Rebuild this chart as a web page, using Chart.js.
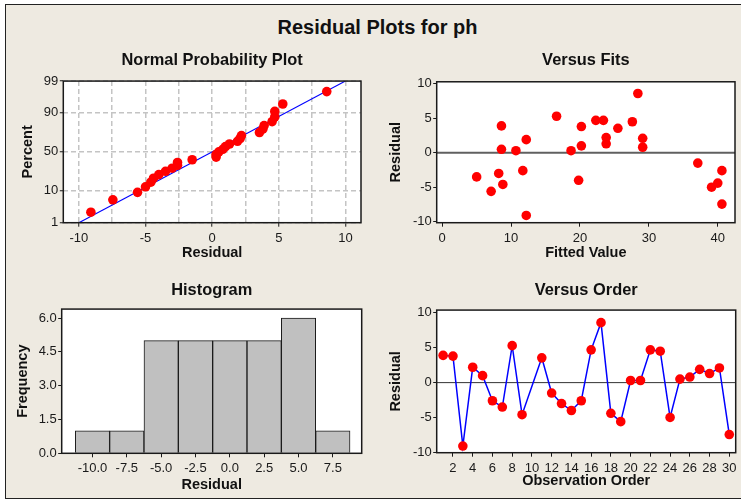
<!DOCTYPE html>
<html>
<head>
<meta charset="utf-8">
<title>Residual Plots for ph</title>
<script src="https://cdn.jsdelivr.net/npm/chart.js@4.4.1/dist/chart.umd.min.js"></script>
<style>
  html, body { margin: 0; padding: 0; background: #fff; }
  #page { position: relative; width: 741px; height: 500px; overflow: hidden; background: #fff; }
  #frame { position: absolute; left: 5px; top: 4px; width: 760px; height: 495px; box-sizing: border-box;
           background: #EEEAE1; border: 1.5px solid #222; }
  #mainTitle { position: absolute; left: 7px; top: 16px; width: 741px; line-height: 23px; text-align: center;
               font: bold 20px "Liberation Sans", Arial, sans-serif; color: #111; }
  canvas { position: absolute; }
</style>
</head>
<body>
<div id="page">
  <div id="frame"></div>
  <div id="mainTitle">Residual Plots for ph</div>
  <canvas id="normalChart" width="370" height="230" style="left:0;top:40px"></canvas>
  <canvas id="fitsChart" width="371" height="230" style="left:370px;top:40px"></canvas>
  <canvas id="histChart" width="370" height="228" style="left:0;top:270px"></canvas>
  <canvas id="orderChart" width="371" height="228" style="left:370px;top:270px"></canvas>
</div>
<script>
// residuals by observation order (observation 10 is missing)
const observation = [1, 2, 3, 4, 5, 6, 7, 8, 9, 10, 11, 12, 13, 14, 15,
                     16, 17, 18, 19, 20, 21, 22, 23, 24, 25, 26, 27, 28, 29, 30];
const residuals = [3.9, 3.8, -9.1, 2.2, 1.0, -2.6, -3.5, 5.3, -4.6, null, 3.55, -1.5, -3.0, -4.0, -2.6,
                   4.7, 8.6, -4.4, -5.6, 0.3, 0.3, 4.7, 4.5, -5.0, 0.5, 0.8, 1.9, 1.3, 2.1, -7.45];
const fittedValues = [8.6, 20.2, 12.2, 23.8, 20.2, 11.7, 5.0, 16.6, 8.8, null, 25.5, 37.1, 8.2, 19.8, 40.6,
                      22.3, 28.4, 40.0, 7.1, 10.7, 18.7, 23.4, 27.6, 39.1, 8.6, 29.1, 12.2, 23.8, 29.1, 40.6];

// histogram bins
const binMids = [-10, -7.5, -5, -2.5, 0, 2.5, 5, 7.5];
const binCounts = [1, 1, 5, 5, 5, 5, 6, 1];

// fitted normal line (residual at 1% and 99%)
const fitLineResidual = [-10, 10];
const fitLinePercent = [1, 99];

// tick labels
const percentTicks = [1, 10, 50, 90, 99];
const normalXTicks = [-10, -7.5, -5, -2.5, 0, 2.5, 5, 7.5, 10];
const residualTicks = [-10, -5, 0, 5, 10];
const fitsXTicks = [0, 10, 20, 30, 40];
const freqTicks = [0, 1.5, 3, 4.5, 6];
const orderTicks = [2, 4, 6, 8, 10, 12, 14, 16, 18, 20, 22, 24, 26, 28, 30];

Chart.defaults.font.family = "'Liberation Sans', Arial, sans-serif";
Chart.defaults.font.size = 13;
Chart.defaults.color = '#1a1a1a';
Chart.defaults.animation = false;
Chart.defaults.plugins.legend.display = false;
Chart.defaults.plugins.tooltip.enabled = false;

// inverse normal cdf (Acklam), used for the probability axis
function probit(p) {
    const a = [-3.969683028665376e+01, 2.209460984245205e+02, -2.759285104469687e+02,
               1.383577518672690e+02, -3.066479806614716e+01, 2.506628277459239e+00];
    const b = [-5.447609879822406e+01, 1.615858368580409e+02, -1.556989798598866e+02,
               6.680131188771972e+01, -1.328068155288572e+01];
    const c = [-7.784894002430293e-03, -3.223964580411365e-01, -2.400758277161838e+00,
               -2.549732539343734e+00, 4.374664141464968e+00, 2.938163982698783e+00];
    const d = [7.784695709041462e-03, 3.224671290700398e-01, 2.445134137142996e+00, 3.754408661907416e+00];
    const pl = 0.02425;
    if (p < pl) {
        const q = Math.sqrt(-2 * Math.log(p));
        return (((((c[0] * q + c[1]) * q + c[2]) * q + c[3]) * q + c[4]) * q + c[5]) /
               ((((d[0] * q + d[1]) * q + d[2]) * q + d[3]) * q + 1);
    }
    if (p > 1 - pl) {
        return -probit(1 - p);
    }
    const q = p - 0.5, r = q * q;
    return (((((a[0] * r + a[1]) * r + a[2]) * r + a[3]) * r + a[4]) * r + a[5]) * q /
           (((((b[0] * r + b[1]) * r + b[2]) * r + b[3]) * r + b[4]) * r + 1);
}

// white plot area, optional zero line, dark frame
const plotFrame = {
    id: 'plotFrame',
    beforeDraw(chart) {
        const a = chart.chartArea, ctx = chart.ctx;
        ctx.save();
        ctx.fillStyle = '#ffffff';
        ctx.fillRect(a.left, a.top, a.right - a.left, a.bottom - a.top);
        ctx.restore();
    },
    beforeDatasetsDraw(chart, args, opts) {
        if (!opts.zeroLine) return;
        const a = chart.chartArea, ctx = chart.ctx;
        const y = chart.scales.y.getPixelForValue(0);
        ctx.save();
        ctx.strokeStyle = opts.zeroColor;
        ctx.lineWidth = opts.zeroWidth;
        ctx.beginPath();
        ctx.moveTo(a.left, y);
        ctx.lineTo(a.right, y);
        ctx.stroke();
        ctx.restore();
    },
    afterDatasetsDraw(chart) {
        const a = chart.chartArea, ctx = chart.ctx;
        ctx.save();
        ctx.strokeStyle = '#1a1a1a';
        ctx.lineWidth = 1.5;
        ctx.strokeRect(a.left, a.top, a.right - a.left, a.bottom - a.top);
        ctx.restore();
    }
};

const titleFont = { size: 16.4, weight: 'bold' };
const axisFont = { size: 14.5, weight: 'bold' };
const dotRadius = 4.8;

function tickGrid(len) {
    return { display: true, drawOnChartArea: false, drawTicks: true, offset: false,
             tickLength: len, tickColor: '#1a1a1a', tickWidth: 1 };
}
function setTicks(values) {
    return function (axis) { axis.ticks = values.map(v => ({ value: v })); };
}

// Normal Probability Plot
const sortedRes = residuals.filter(v => v !== null).sort((p, q) => p - q);
const normalPoints = sortedRes.map((r, i) => ({ x: r, y: probit((i + 0.7) / (sortedRes.length + 0.4)) }));

new Chart(document.getElementById('normalChart'), {
    type: 'scatter',
    data: {
        datasets: [{
            data: normalPoints,
            pointRadius: dotRadius,
            pointBackgroundColor: '#ff0000',
            pointBorderWidth: 0
        }, {
            type: 'line',
            data: fitLineResidual.map((x, i) => ({ x: x, y: probit(fitLinePercent[i] / 100) })),
            borderColor: '#0000ff',
            borderWidth: 1.2,
            pointRadius: 0
        }]
    },
    options: {
        responsive: false,
        devicePixelRatio: 1,
        layout: { padding: { left: 0, right: 9, top: 0, bottom: 0 } },
        plugins: {
            title: { display: true, fullSize: false, text: 'Normal Probability Plot', font: titleFont, color: '#111',
                     padding: { top: 10.2, bottom: 11.2 } }
        },
        scales: {
            x: {
                type: 'linear', min: -11.17, max: 11.17,
                afterBuildTicks: setTicks(normalXTicks),
                afterFit: s => { s.height = 47.3; },
                ticks: { padding: 4, maxRotation: 0,
                         callback: v => (v % 5 === 0 ? String(v) : '') },
                grid: { display: true, drawOnChartArea: true, drawTicks: true, offset: false,
                        color: '#c4c4c4', lineWidth: 1.5, tickLength: 4, tickWidth: 1,
                        tickColor: ctx => (ctx.tick && ctx.tick.value % 5 === 0 ? '#1a1a1a' : 'rgba(0,0,0,0)') },
                border: { display: false, dash: [5, 3] },
                title: { display: true, text: 'Residual', font: axisFont, color: '#111', padding: { top: 0, bottom: 8 } }
            },
            y: {
                type: 'linear', min: probit(0.01), max: probit(0.99),
                afterBuildTicks: setTicks(percentTicks.map(p => probit(p / 100))),
                afterFit: s => { s.width = 63.3; },
                ticks: { padding: 1.5, callback: (v, i) => String(percentTicks[i]) },
                grid: { display: true, drawOnChartArea: true, drawTicks: true,
                        color: '#c4c4c4', lineWidth: 1.5, tickLength: 3.5, tickWidth: 1, tickColor: '#1a1a1a' },
                border: { display: false, dash: [5, 3] },
                title: { display: true, text: 'Percent', font: axisFont, color: '#111', padding: { top: 18.8, bottom: 0 } }
            }
        }
    },
    plugins: [plotFrame]
});

// Versus Fits
new Chart(document.getElementById('fitsChart'), {
    type: 'scatter',
    data: {
        datasets: [{
            data: fittedValues.map((f, i) => ({ x: f, y: residuals[i] })).filter(p => p.y !== null),
            pointRadius: dotRadius,
            pointBackgroundColor: '#ff0000',
            pointBorderWidth: 0
        }]
    },
    options: {
        responsive: false,
        devicePixelRatio: 1,
        layout: { padding: { left: 0, right: 6, top: 0, bottom: 0 } },
        plugins: {
            title: { display: true, fullSize: false, text: 'Versus Fits', font: titleFont, color: '#111',
                     padding: { top: 10.2, bottom: 11.9 } },
            plotFrame: { zeroLine: true, zeroColor: '#606060', zeroWidth: 2 }
        },
        scales: {
            x: {
                type: 'linear', min: -0.8, max: 42.5,
                afterBuildTicks: setTicks(fitsXTicks),
                afterFit: s => { s.height = 47.3; },
                ticks: { padding: 4, maxRotation: 0 },
                grid: tickGrid(4),
                border: { display: false },
                title: { display: true, text: 'Fitted Value', font: axisFont, color: '#111', padding: { top: 0, bottom: 8 } }
            },
            y: {
                type: 'linear', min: -10.15, max: 10.3,
                afterBuildTicks: setTicks(residualTicks),
                afterFit: s => { s.width = 66.7; },
                ticks: { padding: 1.5 },
                grid: tickGrid(3.5),
                border: { display: false },
                title: { display: true, text: 'Residual', font: axisFont, color: '#111', padding: { top: 17.5, bottom: 0 } }
            }
        }
    },
    plugins: [plotFrame]
});

// Histogram
new Chart(document.getElementById('histChart'), {
    type: 'bar',
    data: {
        datasets: [{
            data: binMids.map((m, i) => ({ x: m, y: binCounts[i] })),
            backgroundColor: '#c0c0c0',
            borderColor: '#1a1a1a',
            borderWidth: 1,
            barPercentage: 1,
            categoryPercentage: 1
        }]
    },
    options: {
        responsive: false,
        devicePixelRatio: 1,
        layout: { padding: { left: 0, right: 8.3, top: 0, bottom: 0 } },
        plugins: {
            title: { display: true, fullSize: false, text: 'Histogram', font: titleFont, color: '#111',
                     padding: { top: 10.9, bottom: 8.5 } }
        },
        scales: {
            x: {
                type: 'linear', min: -12.24, max: 9.6, offset: false,
                afterBuildTicks: setTicks(binMids),
                afterFit: s => { s.height = 44.7; },
                ticks: { padding: 3, maxRotation: 0, callback: v => v.toFixed(1) },
                grid: tickGrid(4),
                border: { display: false },
                title: { display: true, text: 'Residual', font: axisFont, color: '#111', padding: { top: 0, bottom: 4.3 } }
            },
            y: {
                type: 'linear', min: 0, max: 6.4,
                afterBuildTicks: setTicks(freqTicks),
                afterFit: s => { s.width = 61.7; },
                ticks: { padding: 1.5, callback: v => v.toFixed(1) },
                grid: tickGrid(3.5),
                border: { display: false },
                title: { display: true, text: 'Frequency', font: axisFont, color: '#111', padding: { top: 14, bottom: 0 } }
            }
        }
    },
    plugins: [plotFrame]
});

// Versus Order
new Chart(document.getElementById('orderChart'), {
    type: 'line',
    data: {
        datasets: [{
            data: observation.map((o, i) => ({ x: o, y: residuals[i] })),
            spanGaps: true,
            borderColor: '#0000ff',
            borderWidth: 1.5,
            pointRadius: dotRadius,
            pointBackgroundColor: '#ff0000',
            pointBorderWidth: 0,
            tension: 0
        }]
    },
    options: {
        responsive: false,
        devicePixelRatio: 1,
        layout: { padding: { left: 0, right: 5.3, top: 0, bottom: 0 } },
        plugins: {
            title: { display: true, fullSize: false, text: 'Versus Order', font: titleFont, color: '#111',
                     padding: { top: 10.9, bottom: 9.5 } },
            plotFrame: { zeroLine: true, zeroColor: '#333333', zeroWidth: 1 }
        },
        scales: {
            x: {
                type: 'linear', min: 0.35, max: 30.65,
                afterBuildTicks: setTicks(orderTicks),
                afterFit: s => { s.height = 45.3; },
                ticks: { padding: 3.8, maxRotation: 0, autoSkip: false },
                grid: tickGrid(4),
                border: { display: false },
                title: { display: true, text: 'Observation Order', font: axisFont, color: '#111', padding: { top: 0, bottom: 8 } }
            },
            y: {
                type: 'linear', min: -10.05, max: 10.4,
                afterBuildTicks: setTicks(residualTicks),
                afterFit: s => { s.width = 66.7; },
                ticks: { padding: 1.5 },
                grid: tickGrid(3.5),
                border: { display: false },
                title: { display: true, text: 'Residual', font: axisFont, color: '#111', padding: { top: 17.5, bottom: 0 } }
            }
        }
    },
    plugins: [plotFrame]
});
</script>
</body>
</html>
